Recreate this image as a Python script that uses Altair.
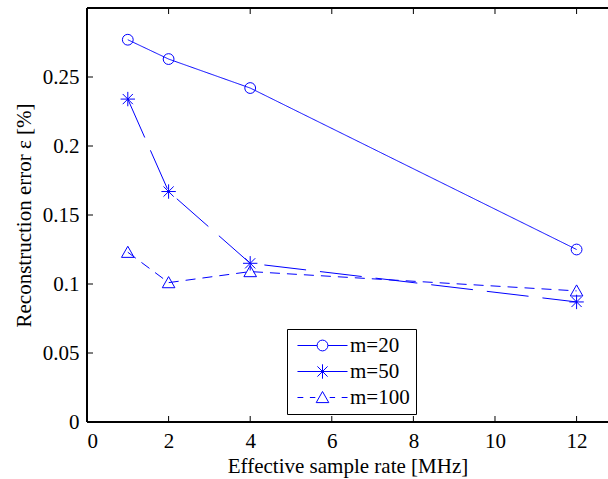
import altair as alt
import pandas as pd

rates = [1, 2, 4, 12]
m20 = [0.277, 0.263, 0.242, 0.125]
m50 = [0.234, 0.167, 0.115, 0.087]
m100 = [0.123, 0.101, 0.109, 0.095]
series_names = ["m=20", "m=50", "m=100"]
x_ticks = [0, 2, 4, 6, 8, 10, 12]
y_ticks = [0, 0.05, 0.1, 0.15, 0.2, 0.25]

rows = []
for name, vals in zip(series_names, [m20, m50, m100]):
    for r, v in zip(rates, vals):
        rows.append({"rate": r, "err": v, "series": name})
df = pd.DataFrame(rows)

W, H = 521, 414
FONT = "Liberation Serif, Tinos, Times New Roman, serif"
BLUE = "#0000ff"
XDOM = [0, 12.77]
YDOM = [0, 0.3]

marker_paths = [
    "M0.9,0A0.9,0.9 0 1,1 -0.9,0A0.9,0.9 0 1,1 0.9,0Z",
    "M-1.2,0H1.2M0,-1.2V1.2M-0.85,-0.85L0.85,0.85M-0.85,0.85L0.85,-0.85",
    "M0,-1L1.05,0.85L-1.05,0.85Z",
]
legend_paths = [
    "M-4.17,0H-0.9M0.9,0H4.17M0.9,0A0.9,0.9 0 1,1 -0.9,0A0.9,0.9 0 1,1 0.9,0Z",
    "M-4.17,0H4.17M0,-1.2V1.2M-0.85,-0.85L0.85,0.85M-0.85,0.85L0.85,-0.85",
    "M0,-1L1.05,0.85L-1.05,0.85ZM-4.17,0H-3.2M-2.1,0H-1.2M1.2,0H2.1M3.2,0H4.17",
]

xs = alt.Scale(domain=XDOM, nice=False, zero=False)
ys = alt.Scale(domain=YDOM, nice=False, zero=False)

base = alt.Chart(df)

lines = base.mark_line(color=BLUE, strokeWidth=1, clip=True).encode(
    x=alt.X("rate:Q", scale=xs,
            axis=alt.Axis(values=x_ticks, title="Effective sample rate [MHz]", ticks=False,
                          grid=False, domain=False, labelPadding=8, titlePadding=4)),
    y=alt.Y("err:Q", scale=ys,
            axis=alt.Axis(values=y_ticks, format="~g", title="Reconstruction error \u03b5 [%]",
                          ticks=False, grid=False, domain=False, labelPadding=8, titlePadding=8)),
    strokeDash=alt.StrokeDash("series:N",
                              scale=alt.Scale(domain=series_names, range=[[1, 0], [42, 14], [10, 7]]),
                              legend=None),
    detail="series:N",
)

points = base.mark_point(color=BLUE, filled=False, strokeWidth=1, size=144, opacity=1).encode(
    x=alt.X("rate:Q", scale=xs),
    y=alt.Y("err:Q", scale=ys),
    shape=alt.Shape("series:N", scale=alt.Scale(domain=series_names, range=marker_paths), legend=None),
)

legend_layer = base.mark_point(color=BLUE, filled=False, strokeWidth=1, size=144).encode(
    shape=alt.Shape("series:N", scale=alt.Scale(domain=series_names, range=legend_paths),
                    legend=alt.Legend(title=None, orient="none", legendX=200, legendY=321,
                                      symbolSize=144, symbolStrokeWidth=1,
                                      symbolFillColor="transparent", symbolStrokeColor=BLUE,
                                      symbolOffset=19, labelOffset=17,
                                      labelFont=FONT, labelFontSize=21, labelColor="black",
                                      padding=6, strokeColor="black",
                                      fillColor="white", cornerRadius=0, rowPadding=4,
                                      symbolOpacity=1)),
).transform_filter("false")

tick_x = pd.DataFrame({"t": x_ticks})
tick_y = pd.DataFrame({"t": y_ticks})
bottom_ticks = alt.Chart(tick_x).mark_rule(color="black", strokeWidth=1).encode(
    x=alt.X("t:Q", scale=xs), y=alt.value(H), y2=alt.value(H - 6))
top_ticks = alt.Chart(tick_x).mark_rule(color="black", strokeWidth=1).encode(
    x=alt.X("t:Q", scale=xs), y=alt.value(0), y2=alt.value(6))
left_ticks = alt.Chart(tick_y).mark_rule(color="black", strokeWidth=1).encode(
    y=alt.Y("t:Q", scale=ys), x=alt.value(0), x2=alt.value(6))

frame = alt.Chart(tick_x).mark_rule(color="black", strokeWidth=1.2).encode(
    x=alt.value(0), x2=alt.value(W), y=alt.value(0))
left_border = alt.Chart(tick_x).mark_rule(color="black", strokeWidth=1.2).encode(
    x=alt.value(0), y=alt.value(0), y2=alt.value(H))
bottom_border = alt.Chart(tick_x).mark_rule(color="black", strokeWidth=1.2).encode(
    x=alt.value(0), x2=alt.value(W), y=alt.value(H))

chart = alt.layer(
    bottom_ticks, top_ticks, left_ticks, lines, points, legend_layer,
    frame, left_border, bottom_border,
).resolve_scale(shape="independent").properties(
    width=W, height=H,
    autosize=alt.AutoSizeParams(type="none"),
    padding={"left": 87, "top": 8, "right": 0, "bottom": 57},
    background="white",
).configure_view(stroke=None).configure_axis(
    labelFont=FONT, titleFont=FONT,
    labelFontSize=21, labelColor="black",
    titleFontSize=21, titleColor="black", titleFontWeight="normal",
)

chart.save("out.html", embed_options={"renderer": "svg", "actions": False})
